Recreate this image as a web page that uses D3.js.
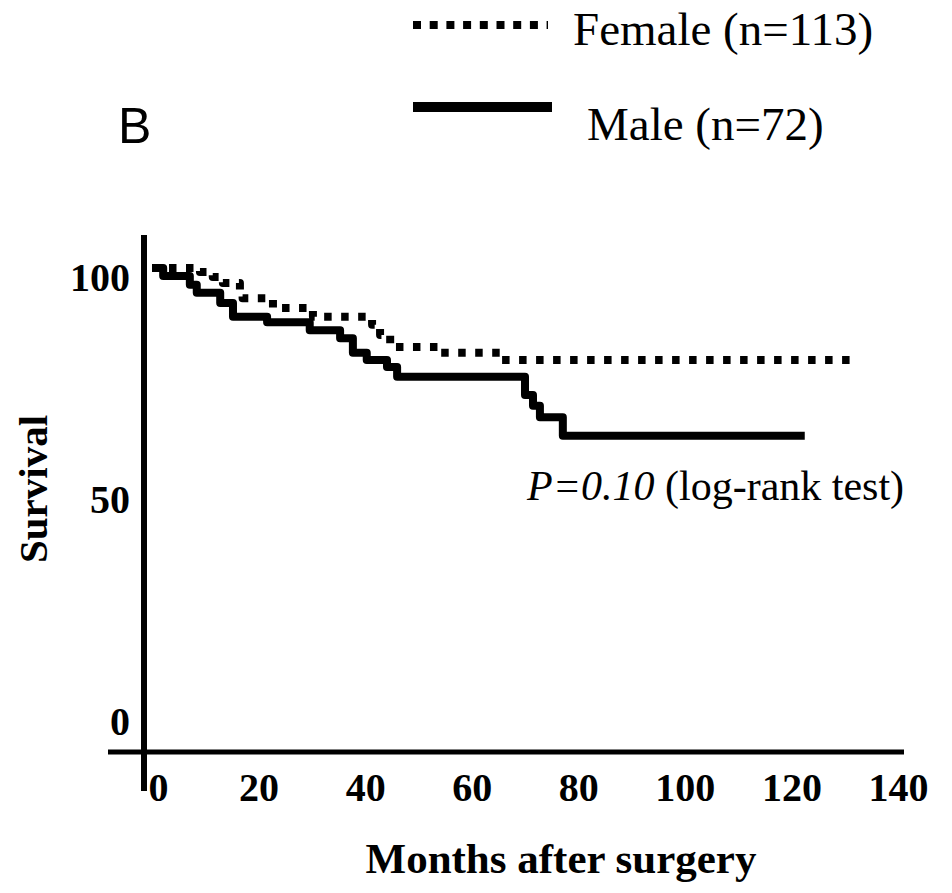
<!DOCTYPE html>
<html>
<head>
<meta charset="utf-8">
<script src="https://cdn.jsdelivr.net/npm/d3@7/dist/d3.min.js"></script>
<style>
  html, body { margin: 0; padding: 0; background: #fff; }
  svg { display: block; }
</style>
</head>
<body>
<svg id="chart" width="952" height="893"></svg>
<script>
// ---- data ----
const maleMonths   = [0, 2.1, 7.1, 8.4, 12.8, 15.2, 21.6, 29.6, 35.3, 37.7, 40.3, 44.1, 46.0, 70.0, 71.5, 72.8, 77.1, 122.5];
const maleSurvival = [100, 98.2, 96.2, 94.4, 92.1, 89.0, 87.8, 86.0, 84.2, 80.9, 79.3, 77.7, 75.5, 71.4, 69.0, 66.4, 62.2, 62.2];
const femaleMonths   = [0, 9.0, 11.4, 13.3, 16.5, 17.0, 22.7, 30.2, 41.3, 42.8, 44.7, 54.0, 65.3, 131.9];
const femaleSurvival = [100, 99.1, 98.0, 96.6, 95.0, 93.2, 91.0, 89.0, 87.2, 84.9, 82.2, 80.9, 79.3, 79.3];
const xTicks = [0, 20, 40, 60, 80, 100, 120, 140];
const yTicks = [0, 50, 100];
const legendLabels = ["Female (n=113)", "Male (n=72)"];

const svg = d3.select("#chart");
const x = d3.scaleLinear().domain([0, 140]).range([152, 898]);
const y = d3.scaleLinear().domain([0, 100]).range([712, 268]);

const serif = "'Liberation Serif', 'Times New Roman', serif";

// axis lines
svg.append("line").attr("x1", 144).attr("x2", 144).attr("y1", 235).attr("y2", 791)
  .attr("stroke", "#000").attr("stroke-width", 6);
svg.append("line").attr("x1", 108).attr("x2", 904).attr("y1", 752).attr("y2", 752)
  .attr("stroke", "#000").attr("stroke-width", 5);

// x axis tick labels
const xAxis = d3.axisBottom(x).tickValues(xTicks).tickSize(0).tickPadding(0).tickFormat(d3.format("d"));
const gx = svg.append("g").attr("transform", "translate(0,771)").call(xAxis);
gx.select(".domain").remove();
gx.selectAll("text").attr("font-family", serif).attr("font-weight", "bold")
  .attr("font-size", 40).attr("fill", "#000").attr("dy", "0.75em");
gx.selectAll(".tick").filter(d => d === 0).select("text").attr("dx", 6);

// y axis tick labels
const yAxis = d3.axisLeft(y).tickValues(yTicks).tickSize(0).tickPadding(0).tickFormat(d3.format("d"));
const gy = svg.append("g").attr("transform", "translate(130,10)").call(yAxis);
gy.select(".domain").remove();
gy.selectAll("text").attr("font-family", serif).attr("font-weight", "bold")
  .attr("font-size", 40).attr("fill", "#000");

// curves
const line = d3.line().x(d => x(d[0])).y(d => y(d[1])).curve(d3.curveStepAfter);
const femaleData = femaleMonths.map((m, i) => [m, femaleSurvival[i]]);
const maleData = maleMonths.map((m, i) => [m, maleSurvival[i]]);

svg.append("path").datum(femaleData).attr("d", line)
  .attr("fill", "none").attr("stroke", "#000").attr("stroke-width", 8)
  .attr("stroke-dasharray", "7.5,9.5").attr("stroke-linejoin", "round");
svg.append("path").datum(maleData).attr("d", line)
  .attr("fill", "none").attr("stroke", "#000").attr("stroke-width", 8)
  .attr("stroke-linejoin", "round");

// axis titles
svg.append("text").attr("x", 561).attr("y", 873).attr("text-anchor", "middle")
  .attr("font-family", serif).attr("font-weight", "bold").attr("font-size", 43)
  .text("Months after surgery");
svg.append("text").attr("transform", "translate(47,489) rotate(-90)").attr("text-anchor", "middle")
  .attr("font-family", serif).attr("font-weight", "bold").attr("font-size", 41)
  .text("Survival");

// P value annotation
const p = svg.append("text").attr("x", 527).attr("y", 500)
  .attr("font-family", serif).attr("font-size", 42);
p.append("tspan").attr("font-style", "italic").text("P=0.10");
p.append("tspan").text(" (log-rank test)");

// panel letter
svg.append("text").attr("x", 118).attr("y", 143)
  .attr("font-family", "'Liberation Sans', Arial, sans-serif").attr("font-size", 50)
  .text("B");

// legend
svg.append("line").attr("x1", 413).attr("x2", 548).attr("y1", 25).attr("y2", 25)
  .attr("stroke", "#000").attr("stroke-width", 8).attr("stroke-dasharray", "8,8.7");
svg.append("line").attr("x1", 413).attr("x2", 552).attr("y1", 107).attr("y2", 107)
  .attr("stroke", "#000").attr("stroke-width", 10);
svg.append("text").attr("x", 573).attr("y", 45)
  .attr("font-family", serif).attr("font-size", 47).text(legendLabels[0]);
svg.append("text").attr("x", 587).attr("y", 140)
  .attr("font-family", serif).attr("font-size", 47).text(legendLabels[1]);
</script>
</body>
</html>
